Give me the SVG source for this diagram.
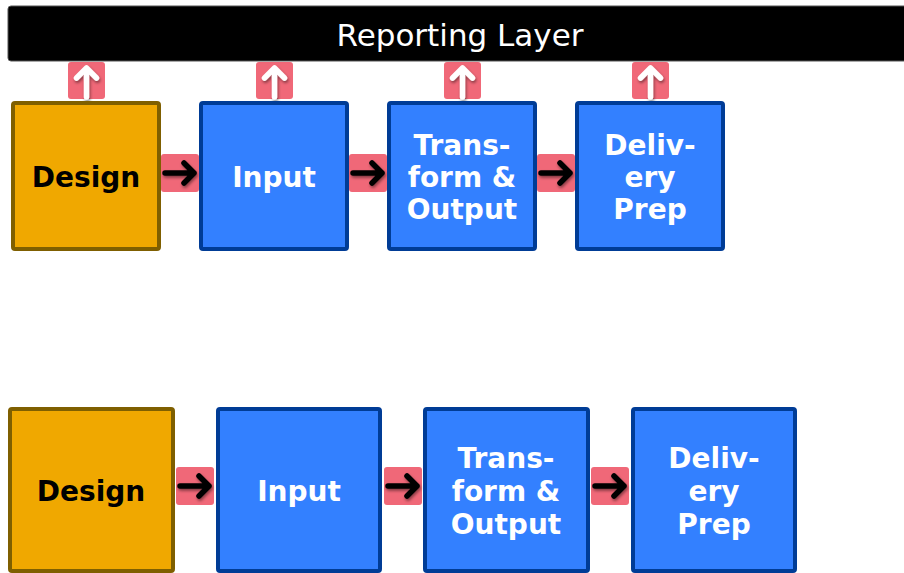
<svg xmlns="http://www.w3.org/2000/svg" width="904" height="573" viewBox="0 0 904 573">
<style>
.org{fill:#f0a800;stroke:#7f5f00;stroke-width:4}
.blu{fill:#3380ff;stroke:#003c96;stroke-width:4}
.pad{fill:#f06878}
.t{font-family:"DejaVu Sans",Verdana,sans-serif;font-weight:bold;font-size:28px;text-anchor:middle}
.w{fill:#fff}
.k{fill:#000}
.ar{fill:none;stroke:#000;stroke-width:5.5;stroke-linecap:round;stroke-linejoin:round}
.au{fill:none;stroke:#fff;stroke-width:5.5;stroke-linecap:round;stroke-linejoin:round}
</style>
<defs>
<filter id="sh" x="-50%" y="-50%" width="200%" height="200%">
<feDropShadow dx="1" dy="2" stdDeviation="1.5" flood-color="#000" flood-opacity="0.45"/>
</filter>
<symbol id="ra" overflow="visible"><rect class="pad" x="0" y="0" width="38" height="38" rx="3"/><g filter="url(#sh)"><path class="ar" d="M4 19H33M23 9L33 19L23 29"/></g></symbol>
<symbol id="ua" overflow="visible"><rect class="pad" x="0" y="0" width="37" height="37" rx="3"/><g filter="url(#sh)"><path class="au" d="M18.5 35V6M8.5 16L18.5 6L28.5 16"/></g></symbol>
</defs>
<rect width="904" height="573" fill="#fff"/>
<g id="reporting">
<rect x="8" y="6" width="910" height="55" rx="3" fill="#000" stroke="#555" stroke-width="1"/>
<text x="460" y="46" font-family="'DejaVu Sans',Verdana,sans-serif" font-size="31" fill="#fff" text-anchor="middle">Reporting Layer</text>
</g>
<g id="connectors">
<use href="#ua" x="68" y="62"/>
<use href="#ua" x="256" y="62"/>
<use href="#ua" x="444" y="62"/>
<use href="#ua" x="632" y="62"/>
<use href="#ra" x="161" y="154"/>
<use href="#ra" x="349" y="154"/>
<use href="#ra" x="537" y="154"/>
<use href="#ra" x="176" y="467"/>
<use href="#ra" x="384" y="467"/>
<use href="#ra" x="591" y="467"/>
</g>
<g id="design1"><rect class="org" x="13" y="103" width="146" height="146" rx="2"/><text class="t k" x="86" y="187">Design</text></g>
<g id="input1"><rect class="blu" x="201" y="103" width="146" height="146" rx="2"/><text class="t w" x="274" y="187">Input</text></g>
<g id="transform1"><rect class="blu" x="389" y="103" width="146" height="146" rx="2"/><text class="t w" x="462" y="155">Trans-<tspan x="462" dy="32">form &amp;</tspan><tspan x="462" dy="32">Output</tspan></text></g>
<g id="delivery1"><rect class="blu" x="577" y="103" width="146" height="146" rx="2"/><text class="t w" x="650" y="155">Deliv-<tspan x="650" dy="32">ery</tspan><tspan x="650" dy="32">Prep</tspan></text></g>
<g id="design2"><rect class="org" x="10" y="409" width="163" height="162" rx="2"/><text class="t k" x="91" y="501">Design</text></g>
<g id="input2"><rect class="blu" x="218" y="409" width="162" height="162" rx="2"/><text class="t w" x="299" y="501">Input</text></g>
<g id="transform2"><rect class="blu" x="425" y="409" width="163" height="162" rx="2"/><text class="t w" x="506" y="468">Trans-<tspan x="506" dy="33">form &amp;</tspan><tspan x="506" dy="33">Output</tspan></text></g>
<g id="delivery2"><rect class="blu" x="633" y="409" width="162" height="162" rx="2"/><text class="t w" x="714" y="468">Deliv-<tspan x="714" dy="33">ery</tspan><tspan x="714" dy="33">Prep</tspan></text></g>
</svg>
